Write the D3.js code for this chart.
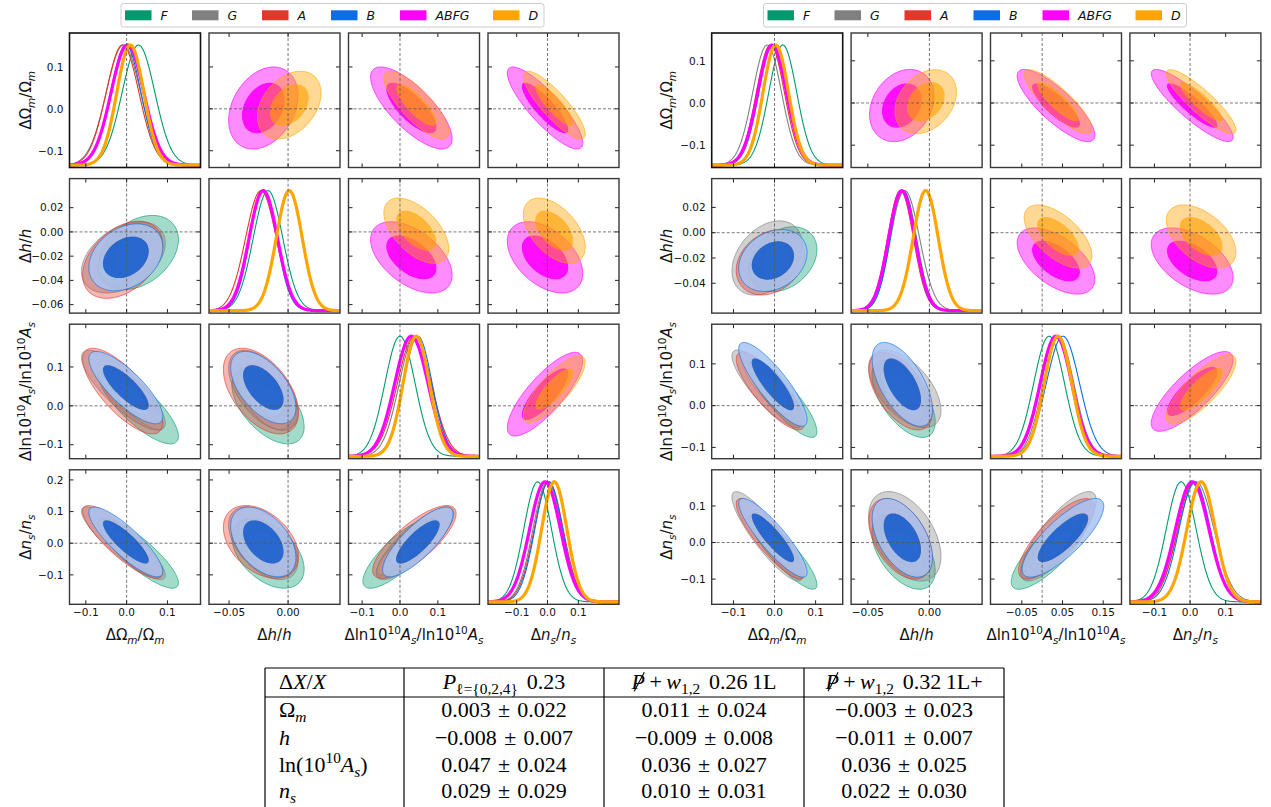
<!DOCTYPE html>
<html>
<head>
<meta charset="utf-8">
<title>corner plots</title>
<script src="https://cdn.jsdelivr.net/npm/d3@7/dist/d3.min.js"></script>
<style>
  body { margin: 0; background: #fff; }
  text { font-family: "DejaVu Sans", sans-serif; fill: #111; }
  .tbl text { font-family: "Liberation Serif", serif; fill: #000; }
</style>
</head>
<body>
<svg id="fig" width="1271" height="807"></svg>
<script>

////////////////////
// DATA

var sampleNames = ["F", "G", "A", "B", "ABFG", "D"];
var sampleColors = ["#009a6e", "#808080", "#e3372b", "#0b6ee6", "#ff00ff", "#ffa500"];

// parameter order: Om, h, As, ns
// correlation order: Om-h, Om-As, Om-ns, h-As, h-ns, As-ns

// left triangle
var leftRanges = [[-0.14, 0.181], [-0.067, 0.044], [-0.136, 0.21], [-0.193, 0.232]];
var leftXTicks = [[-0.1, 0, 0.1], [-0.05, 0], [-0.1, 0, 0.1], [-0.1, 0, 0.1]];
var leftYTicks = [[-0.1, 0, 0.1], [-0.06, -0.04, -0.02, 0, 0.02], [-0.1, 0, 0.1], [-0.1, 0, 0.1, 0.2]];
var leftMeans = [
  [0.029, -0.017, 0.000, -0.032],
  [-0.008, -0.021, 0.040, 0.000],
  [-0.010, -0.023, 0.038, 0.004],
  [-0.002, -0.021, 0.047, 0.004],
  [0.002, -0.021, 0.030, -0.008],
  [0.009, 0.001, 0.043, 0.022]
];
var leftSigmas = [
  [0.040, 0.0125, 0.040, 0.045],
  [0.042, 0.012, 0.042, 0.047],
  [0.040, 0.013, 0.045, 0.047],
  [0.037, 0.0113, 0.038, 0.045],
  [0.040, 0.012, 0.044, 0.050],
  [0.033, 0.011, 0.035, 0.041]
];
var leftCorr = [
  [0.35, -0.80, -0.85, -0.55, -0.45, 0.80],
  [0.40, -0.82, -0.88, -0.55, -0.50, 0.82],
  [0.40, -0.75, -0.85, -0.50, -0.40, 0.78],
  [0.30, -0.80, -0.85, -0.55, -0.45, 0.80],
  [0.30, -0.75, -0.85, -0.50, -0.45, 0.80],
  [0.35, -0.80, -0.85, -0.55, -0.50, 0.80]
];

// right triangle
var rightRanges = [[-0.153, 0.166], [-0.0636, 0.0428], [-0.127, 0.195], [-0.169, 0.199]];
var rightXTicks = [[-0.1, 0, 0.1], [-0.05, 0], [-0.05, 0.05, 0.15], [-0.1, 0, 0.1]];
var rightYTicks = [[-0.1, 0, 0.1], [-0.04, -0.02, 0, 0.02], [-0.1, 0, 0.1], [-0.1, 0, 0.1]];
var rightMeans = [
  [0.020, -0.021, 0.017, -0.025],
  [-0.018, -0.020, 0.040, 0.017],
  [-0.010, -0.0235, 0.035, 0.010],
  [-0.004, -0.022, 0.051, 0.013],
  [-0.006, -0.0224, 0.034, 0.006],
  [0.003, -0.003, 0.039, 0.031]
];
var rightSigmas = [
  [0.034, 0.0105, 0.038, 0.042],
  [0.035, 0.012, 0.038, 0.050],
  [0.034, 0.0105, 0.038, 0.045],
  [0.034, 0.010, 0.041, 0.044],
  [0.035, 0.0107, 0.039, 0.047],
  [0.031, 0.0102, 0.034, 0.040]
];
var rightCorr = [
  [0.30, -0.85, -0.88, -0.60, -0.50, 0.80],
  [0.35, -0.85, -0.88, -0.55, -0.45, 0.80],
  [0.25, -0.82, -0.87, -0.55, -0.45, 0.78],
  [0.25, -0.85, -0.88, -0.60, -0.50, 0.80],
  [0.25, -0.82, -0.88, -0.55, -0.50, 0.80],
  [0.30, -0.85, -0.88, -0.60, -0.50, 0.80]
];

// axis labels: [text, flags]  i = italic, _ = subscript, ^ = superscript, s = slashed
var paramLabels = [
  [["Δ", ""], ["Ω", ""], ["m", "i_"], ["/Ω", ""], ["m", "i_"]],
  [["Δ", ""], ["h", "i"], ["/", ""], ["h", "i"]],
  [["Δln10", ""], ["10", "^"], ["A", "i"], ["s", "i_"], ["/ln10", ""], ["10", "^"], ["A", "i"], ["s", "i_"]],
  [["Δ", ""], ["n", "i"], ["s", "i_"], ["/", ""], ["n", "i"], ["s", "i_"]]
];

// table
var tableHeads = [
  [["Δ", ""], ["X", "i"], ["/", ""], ["X", "i"]],
  [["P", "i"], ["ℓ={0,2,4}", "_"], ["  0.23", ""]],
  [["P", "is"], [" + ", ""], ["w", "i"], ["1,2", "_"], ["  0.26 1L", ""]],
  [["P", "is"], [" + ", ""], ["w", "i"], ["1,2", "_"], ["  0.32 1L+", ""]]
];
var tableParams = [
  [["Ω", ""], ["m", "i_"]],
  [["h", "i"]],
  [["ln(10", ""], ["10", "^"], ["A", "i"], ["s", "i_"], [")", ""]],
  [["n", "i"], ["s", "i_"]]
];
var colP023 = ["0.003 ± 0.022", "−0.008 ± 0.007", "0.047 ± 0.024", "0.029 ± 0.029"];
var colP026 = ["0.011 ± 0.024", "−0.009 ± 0.008", "0.036 ± 0.027", "0.010 ± 0.031"];
var colP032 = ["−0.003 ± 0.023", "−0.011 ± 0.007", "0.036 ± 0.025", "0.022 ± 0.030"];

////////////////////
// LAYOUT

var PW = 131, PH = 134.5;
var svg = d3.select("#fig");

svg.append("defs").append("clipPath").attr("id", "panelClip")
  .append("rect").attr("width", PW).attr("height", PH);

var pairIdx = [[-1, 0, 1, 2], [0, -1, 3, 4], [1, 3, -1, 5], [2, 4, 5, -1]];
var R68 = 1.515, R95 = 2.448;

// returns tspans that need a slash drawn through them
function rich(text, parts, size, subShift) {
  var off = 0, slashed = [];
  var sub = subShift || 0.25;
  parts.forEach(function(p) {
    var f = p[1];
    var target = f.indexOf("_") >= 0 ? sub * size : (f.indexOf("^") >= 0 ? -0.42 * size : 0);
    var ts = text.append("tspan").text(p[0].replace(/ /g, "\u2009"));
    if (target - off !== 0) ts.attr("dy", target - off);
    off = target;
    if (target !== 0) ts.attr("font-size", 0.7 * size);
    if (f.indexOf("i") >= 0) ts.attr("font-style", "italic");
    if (f.indexOf("s") >= 0) slashed.push(ts);
  });
  return slashed;
}

function ellipse(mx, my, sx, sy, rho, r) {
  var pts = [];
  var c = Math.sqrt(1 - rho * rho);
  for (var k = 0; k < 140; k++) {
    var t = 2 * Math.PI * k / 140;
    var a = r * Math.cos(t), b = r * Math.sin(t);
    pts.push([mx + sx * a, my + sy * (rho * a + c * b)]);
  }
  return pts;
}

function tickFormat(ticks) {
  var dec = d3.max(ticks, function(t) {
    var s = String(Math.abs(t));
    return s.indexOf(".") < 0 ? 1 : s.split(".")[1].length;
  });
  return d3.format("." + Math.max(dec, 1) + "f");
}

////////////////////
// CORNER PLOT

// [outer band colour, outer opacity, inner colour, inner opacity]
var fills = [
  ["#009a6e", 0.36, "#009a6e", 0.22],
  ["#808080", 0.36, "#808080", 0.22],
  ["#e3372b", 0.36, "#e3372b", 0.22],
  ["#a9c4f2", 0.86, "#1c63d3", 0.92],
  ["#ff00ff", 0.45, "#ff00ff", 0.95],
  ["#ffa500", 0.42, "#ffa000", 0.78]
];

function drawCorner(cfg) {
  var root = svg.append("g");
  var colX = d3.range(4).map(function(j) { return cfg.x0 + j * cfg.dx; });
  var rowY = d3.range(4).map(function(i) { return 33 + i * 145.6; });

  for (var i = 0; i < 4; i++) {
    for (var j = 0; j < 4; j++) {
      var g = root.append("g").attr("transform", "translate(" + colX[j] + "," + rowY[i] + ")");
      var x = d3.scaleLinear().domain(cfg.ranges[j]).range([0, PW]);
      var inner = g.append("g").attr("clip-path", "url(#panelClip)");
      var y;

      if (i === j) {
        // 1D marginals
        y = d3.scaleLinear().domain([-0.02, 1.1]).range([PH, 0]);
        var dom = cfg.ranges[i];
        var grid = d3.range(0, 241).map(function(k) { return dom[0] + (dom[1] - dom[0]) * k / 240; });
        sampleNames.forEach(function(s, k) {
          var mu = cfg.means[k][i], sd = cfg.sigmas[k][i];
          var line = d3.line()
            .x(function(v) { return x(v); })
            .y(function(v) { return y(Math.exp(-0.5 * Math.pow((v - mu) / sd, 2))); });
          inner.append("path")
            .attr("d", line(grid))
            .attr("fill", "none")
            .attr("stroke", sampleColors[k])
            .attr("stroke-width", k >= 4 ? 3.2 : 1.1);
        });
        inner.append("line")
          .attr("x1", x(0)).attr("x2", x(0)).attr("y1", 0).attr("y2", PH)
          .attr("stroke", "#555").attr("stroke-width", 0.8).attr("stroke-dasharray", "3,2");
      } else {
        // 2D contours: lower = F,G,A,B ; upper = ABFG,D
        y = d3.scaleLinear().domain(cfg.ranges[i]).range([PH, 0]);
        var which = i > j ? [0, 1, 2, 3] : [4, 5];
        var closed = d3.line()
          .x(function(p) { return x(p[0]); })
          .y(function(p) { return y(p[1]); })
          .curve(d3.curveLinearClosed);
        which.forEach(function(k) {
          var mx = cfg.means[k][j], my = cfg.means[k][i];
          var sx = cfg.sigmas[k][j], sy = cfg.sigmas[k][i];
          var rho = cfg.corr[k][pairIdx[i][j]];
          var e95 = closed(ellipse(mx, my, sx, sy, rho, R95));
          var e68 = closed(ellipse(mx, my, sx, sy, rho, R68));
          var fl = fills[k];
          inner.append("path")
            .attr("d", e95 + e68)
            .attr("fill-rule", "evenodd")
            .attr("fill", fl[0])
            .attr("fill-opacity", fl[1]);
          inner.append("path")
            .attr("d", e68)
            .attr("fill", fl[2])
            .attr("fill-opacity", fl[3]);
          inner.append("path")
            .attr("d", e95)
            .attr("fill", "none")
            .attr("stroke", sampleColors[k])
            .attr("stroke-opacity", 0.7)
            .attr("stroke-width", 0.9);
          if (k < 3) {
            inner.append("path")
              .attr("d", e68)
              .attr("fill", "none")
              .attr("stroke", sampleColors[k])
              .attr("stroke-opacity", 0.5)
              .attr("stroke-width", 0.8);
          }
        });
        inner.append("line")
          .attr("x1", x(0)).attr("x2", x(0)).attr("y1", 0).attr("y2", PH)
          .attr("stroke", "#555").attr("stroke-width", 0.8).attr("stroke-dasharray", "3,2");
        inner.append("line")
          .attr("x1", 0).attr("x2", PW).attr("y1", y(0)).attr("y2", y(0))
          .attr("stroke", "#555").attr("stroke-width", 0.8).attr("stroke-dasharray", "3,2");

        // inward ticks on all sides
        cfg.yTicks[i].forEach(function(t) {
          g.append("line").attr("x1", 0).attr("x2", 4).attr("y1", y(t)).attr("y2", y(t))
            .attr("stroke", "#222").attr("stroke-width", 1);
          g.append("line").attr("x1", PW).attr("x2", PW - 4).attr("y1", y(t)).attr("y2", y(t))
            .attr("stroke", "#222").attr("stroke-width", 1);
        });
        cfg.xTicks[j].forEach(function(t) {
          g.append("line").attr("x1", x(t)).attr("x2", x(t)).attr("y1", 0).attr("y2", 4)
            .attr("stroke", "#222").attr("stroke-width", 1);
        });
      }
      cfg.xTicks[j].forEach(function(t) {
        g.append("line").attr("x1", x(t)).attr("x2", x(t)).attr("y1", PH).attr("y2", PH - 4)
          .attr("stroke", "#222").attr("stroke-width", 1);
      });

      // frame
      g.append("rect").attr("width", PW).attr("height", PH)
        .attr("fill", "none")
        .attr("stroke", (i === 0 && j === 0) ? "#111" : "#383838")
        .attr("stroke-width", (i === 0 && j === 0) ? 1.6 : 1.4);

      // tick labels
      if (j === 0) {
        var yl = d3.scaleLinear().domain(cfg.ranges[i]).range([PH, 0]);
        var fy = tickFormat(cfg.yTicks[i]);
        cfg.yTicks[i].forEach(function(t) {
          g.append("text").attr("x", -6).attr("y", yl(t)).attr("dy", "0.36em")
            .attr("text-anchor", "end").attr("font-size", 10.5).text(fy(t));
        });
      }
      if (i === 3) {
        var fx = tickFormat(cfg.xTicks[j]);
        cfg.xTicks[j].forEach(function(t) {
          g.append("text").attr("x", x(t)).attr("y", PH + 3).attr("dy", "0.8em")
            .attr("text-anchor", "middle").attr("font-size", 10.5).text(fx(t));
        });
      }
    }
  }

  // axis labels
  for (var p = 0; p < 4; p++) {
    var tx = root.append("text")
      .attr("x", colX[p] + PW / 2).attr("y", 640)
      .attr("text-anchor", "middle").attr("font-size", 15);
    rich(tx, paramLabels[p], 15);
    var ty = root.append("text")
      .attr("transform", "translate(" + cfg.ylabX + "," + (rowY[p] + PH / 2) + ") rotate(-90)")
      .attr("text-anchor", "middle").attr("dy", "0.35em").attr("font-size", 15);
    rich(ty, paramLabels[p], 15);
  }

  // legend
  var lg = svg.append("g").attr("transform", "translate(" + cfg.legendX + ",3.5)");
  lg.append("rect").attr("width", 423).attr("height", 23.5).attr("rx", 2.5)
    .attr("fill", "#fff").attr("stroke", "#ccc").attr("stroke-width", 1);
  var offs = [4, 71, 141, 210, 279, 372];
  sampleNames.forEach(function(s, k) {
    lg.append("rect").attr("x", offs[k]).attr("y", 6.8).attr("width", 26.5).attr("height", 10)
      .attr("fill", sampleColors[k]);
    lg.append("text").attr("x", offs[k] + 35.5).attr("y", 12).attr("dy", "0.36em")
      .attr("font-size", 12.5).attr("font-style", "italic").text(s);
  });
}

drawCorner({ x0: 69.5, dx: 139.5, ylabX: 26, legendX: 121,
  ranges: leftRanges, xTicks: leftXTicks, yTicks: leftYTicks,
  means: leftMeans, sigmas: leftSigmas, corr: leftCorr });
drawCorner({ x0: 711.7, dx: 139.4, ylabX: 667, legendX: 763.5,
  ranges: rightRanges, xTicks: rightXTicks, yTicks: rightYTicks,
  means: rightMeans, sigmas: rightSigmas, corr: rightCorr });

////////////////////
// TABLE

var tbl = svg.append("g").attr("class", "tbl");
var cx = [265, 404, 604, 804, 1004];
var ry = [682, 710, 738, 765, 791];
var TS = 22;

tbl.append("line").attr("x1", 265).attr("x2", 1004).attr("y1", 668).attr("y2", 668)
  .attr("stroke", "#000").attr("stroke-width", 1.2);
tbl.append("line").attr("x1", 265).attr("x2", 1004).attr("y1", 697).attr("y2", 697)
  .attr("stroke", "#000").attr("stroke-width", 1.2);
cx.forEach(function(v) {
  tbl.append("line").attr("x1", v).attr("x2", v).attr("y1", 668).attr("y2", 807)
    .attr("stroke", "#000").attr("stroke-width", 1.2);
});

tableHeads.forEach(function(parts, c) {
  var t = tbl.append("text").attr("y", ry[0]).attr("dy", "0.33em").attr("font-size", TS);
  if (c === 0) t.attr("x", cx[0] + 14);
  else t.attr("x", (cx[c] + cx[c + 1]) / 2).attr("text-anchor", "middle");
  var sl = rich(t, parts, TS, 0.22);
  // slash through P
  sl.forEach(function(ts) {
    var b = ts.node().getBBox();
    tbl.append("line")
      .attr("x1", b.x + b.width * 0.95).attr("y1", b.y + b.height * 0.12)
      .attr("x2", b.x + b.width * 0.25).attr("y2", b.y + b.height * 0.88)
      .attr("stroke", "#000").attr("stroke-width", 1.1);
  });
});
tableParams.forEach(function(parts, r) {
  var t = tbl.append("text").attr("x", cx[0] + 14).attr("y", ry[r + 1]).attr("dy", "0.33em")
    .attr("font-size", TS);
  rich(t, parts, TS, 0.2);
});
[colP023, colP026, colP032].forEach(function(col, c) {
  col.forEach(function(v, r) {
    tbl.append("text").attr("x", (cx[c + 1] + cx[c + 2]) / 2).attr("y", ry[r + 1]).attr("dy", "0.33em")
      .attr("text-anchor", "middle").attr("font-size", TS)
      .text(v.replace(" ± ", "\u2004±\u2004"));
  });
});

</script>
</body>
</html>
